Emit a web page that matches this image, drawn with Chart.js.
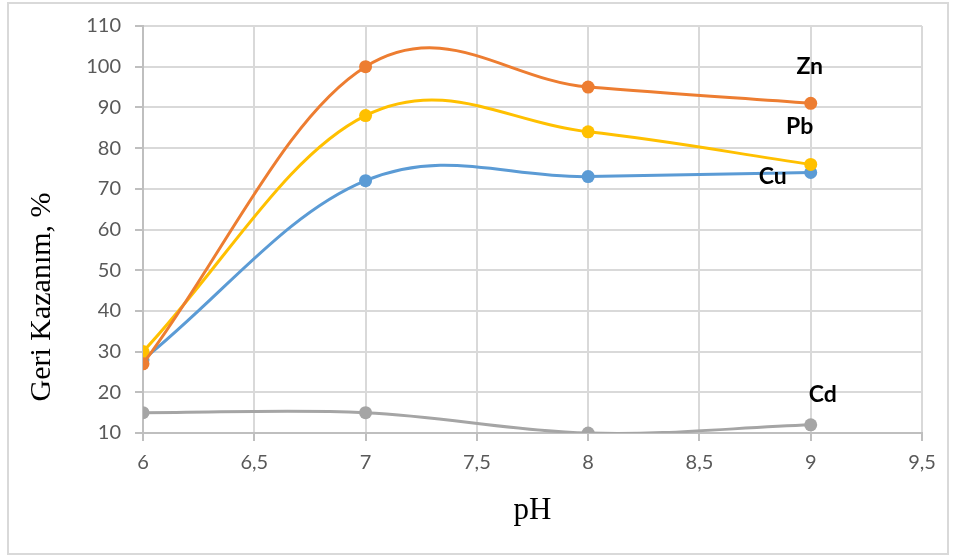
<!DOCTYPE html>
<html>
<head>
<meta charset="utf-8">
<script src="https://cdn.jsdelivr.net/npm/chart.js@4/dist/chart.umd.min.js"></script>
<style>
  body { margin: 0; background: #fff; }
  canvas { display: block; }
</style>
</head>
<body>
<canvas id="phChart" width="958" height="557"></canvas>
<script>
// pH values on the x axis
var ph = [6, 7, 8, 9];

// recovery, %
var zn = [27, 100, 95, 91];
var pb = [30, 88, 84, 76];
var cu = [28, 72, 73, 74];
var cd = [15, 15, 10, 12];

var seriesNames = ['Zn', 'Pb', 'Cu', 'Cd'];
var seriesColors = ['#ED7D31', '#FFC000', '#5B9BD5', '#A5A5A5'];

var yTitle = 'Geri Kazanım, %';
var xTitle = 'pH';

// where each series name sits relative to its last point (px)
var nameOffsets = [[-1, -37], [-11, -38], [-38, 4], [12, -30]];

// excel-like smoothing factor
var smooth = 0.18;

function toPoints(ys) {
    var pts = [];
    for (let i = 0; i < ph.length; i++) {
        pts.push({ x: ph[i], y: ys[i] });
    }
    return pts;
}

function makeSet(idx, ys) {
    return {
        label: seriesNames[idx],
        data: toPoints(ys),
        borderColor: seriesColors[idx],
        backgroundColor: seriesColors[idx],
        borderWidth: 3,
        pointRadius: 6.5,
        pointBorderWidth: 0,
        tension: 0.5,
        fill: false
    };
}

const frame = {
    id: 'frame',
    beforeDraw(chart) {
        var c = chart.ctx;
        c.save();
        c.fillStyle = '#fff';
        c.fillRect(0, 0, chart.width, chart.height);
        c.strokeStyle = '#d9d9d9';
        c.lineWidth = 2;
        c.strokeRect(8, 3, 940, 551);
        c.restore();
    }
};

// replace chart.js control points with a simpler catmull-rom style (like excel's smoothed lines)
const excelSmooth = {
    id: 'excelSmooth',
    beforeDatasetsDraw(chart) {
        chart.data.datasets.forEach(function (ds, di) {
            var meta = chart.getDatasetMeta(di);
            var pts = meta.data;
            meta.dataset.updateControlPoints(chart.chartArea, 'x');
            for (let i = 0; i < pts.length; i++) {
                var p = pts[i];
                var prev = pts[i - 1] || { x: 2 * p.x - pts[i + 1].x, y: 2 * p.y - pts[i + 1].y };
                var next = pts[i + 1] || { x: 2 * p.x - pts[i - 1].x, y: 2 * p.y - pts[i - 1].y };
                var dx = next.x - prev.x;
                var dy = next.y - prev.y;
                p.cp1x = p.x - smooth * dx;
                p.cp1y = p.y - smooth * dy;
                p.cp2x = p.x + smooth * dx;
                p.cp2y = p.y + smooth * dy;
            }
        });
    }
};

const extraText = {
    id: 'extraText',
    afterDatasetsDraw(chart) {
        var c = chart.ctx;
        c.save();
        c.font = 'bold 23px Lato';
        c.fillStyle = '#000';
        c.textAlign = 'center';
        c.textBaseline = 'middle';
        chart.data.datasets.forEach(function (ds, i) {
            var pts = chart.getDatasetMeta(i).data;
            var last = pts[pts.length - 1];
            c.fillText(ds.label, last.x + nameOffsets[i][0], last.y + nameOffsets[i][1]);
        });
        c.restore();
    },
    afterDraw(chart) {
        // y axis title, excel puts it lower than the plot centre
        var c = chart.ctx;
        c.save();
        c.translate(50, 297);
        c.rotate(-Math.PI / 2);
        c.font = '30px "Liberation Serif"';
        c.fillStyle = '#000';
        c.textAlign = 'center';
        c.textBaseline = 'alphabetic';
        c.fillText(yTitle, 0, 0);
        c.restore();
    }
};

var ctx = document.getElementById('phChart');
var phChart = new Chart(ctx, {
    type: 'line',
    data: {
        datasets: [makeSet(0, zn), makeSet(1, pb), makeSet(2, cu), makeSet(3, cd)]
    },
    options: {
        responsive: false,
        animation: false,
        layout: { padding: { top: 24, right: 36, left: 0, bottom: 0 } },
        plugins: {
            legend: { display: false },
            tooltip: { enabled: false }
        },
        scales: {
            x: {
                type: 'linear',
                min: 6,
                max: 9.5,
                afterFit: function (s) { s.height = 124; },
                ticks: {
                    stepSize: 0.5,
                    color: '#595959',
                    font: { family: 'Lato', size: 20 },
                    padding: 10,
                    maxRotation: 0,
                    callback: function (v) { return String(v).replace('.', ','); }
                },
                grid: { color: '#d9d9d9', lineWidth: 2, tickLength: 8, tickColor: '#bfbfbf' },
                border: { color: '#bfbfbf', width: 2 },
                title: {
                    display: true,
                    text: xTitle,
                    color: '#000',
                    font: { family: 'Liberation Serif', size: 31 },
                    padding: { top: 0, bottom: 28 }
                }
            },
            y: {
                min: 10,
                max: 110,
                afterFit: function (s) { s.width = 143; },
                ticks: {
                    stepSize: 10,
                    color: '#595959',
                    font: { family: 'Lato', size: 20 },
                    padding: 14
                },
                grid: { color: '#d9d9d9', lineWidth: 2, tickLength: 8, tickColor: '#bfbfbf' },
                border: { color: '#bfbfbf', width: 2 }
            }
        }
    },
    plugins: [frame, excelSmooth, extraText]
});
</script>
</body>
</html>
